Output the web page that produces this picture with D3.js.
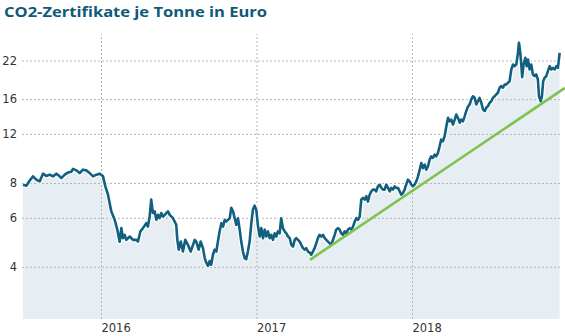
<!DOCTYPE html>
<html><head><meta charset="utf-8">
<script src="https://cdn.jsdelivr.net/npm/d3@7"></script>
<style>
html,body{margin:0;padding:0;background:#fff;}
svg{display:block;}
</style></head>
<body><svg id="c" width="565" height="336"></svg>
<script>
// ---- data ----
const title = "CO2-Zertifikate je Tonne in Euro";
const yTicks = [4, 6, 8, 12, 16, 22];
const xTicks = [2016, 2017, 2018];
// time in decimal years
const years = [
2015.498,2015.520,2015.542,2015.563,2015.584,2015.606,2015.627,2015.648,2015.670,2015.691,
2015.713,2015.734,2015.745,2015.767,2015.788,2015.809,2015.820,2015.841,2015.863,2015.884,
2015.905,2015.927,2015.949,2015.970,2015.992,2016.013,2016.028,2016.045,2016.066,2016.088,
2016.105,2016.120,2016.131,2016.141,2016.152,2016.163,2016.185,2016.206,2016.227,2016.238,
2016.253,2016.270,2016.291,2016.302,2016.313,2016.323,2016.334,2016.345,2016.356,2016.367,
2016.377,2016.388,2016.399,2016.410,2016.420,2016.431,2016.442,2016.463,2016.484,2016.491,
2016.500,2016.513,2016.527,2016.542,2016.559,2016.577,2016.592,2016.603,2016.613,2016.628,
2016.641,2016.656,2016.667,2016.677,2016.688,2016.699,2016.709,2016.720,2016.731,2016.742,
2016.752,2016.763,2016.774,2016.785,2016.796,2016.806,2016.817,2016.828,2016.838,2016.849,
2016.860,2016.870,2016.881,2016.892,2016.902,2016.913,2016.924,2016.934,2016.945,2016.956,
2016.967,2016.977,2016.988,2016.999,2017.010,2017.021,2017.031,2017.042,2017.053,2017.063,
2017.074,2017.085,2017.095,2017.106,2017.117,2017.127,2017.138,2017.149,2017.159,2017.170,
2017.181,2017.192,2017.203,2017.214,2017.224,2017.235,2017.246,2017.256,2017.267,2017.278,
2017.288,2017.299,2017.310,2017.320,2017.331,2017.342,2017.352,2017.363,2017.374,2017.385,
2017.395,2017.406,2017.417,2017.428,2017.439,2017.449,2017.460,2017.471,2017.481,2017.492,
2017.503,2017.513,2017.524,2017.535,2017.545,2017.556,2017.567,2017.578,2017.588,2017.599,
2017.610,2017.621,2017.632,2017.642,2017.653,2017.664,2017.674,2017.685,2017.696,2017.706,
2017.717,2017.728,2017.738,2017.749,2017.760,2017.770,2017.781,2017.792,2017.803,2017.814,
2017.824,2017.835,2017.846,2017.857,2017.867,2017.878,2017.889,2017.899,2017.910,2017.921,
2017.931,2017.942,2017.953,2017.963,2017.974,2017.985,2017.996,2018.006,2018.017,2018.028,
2018.039,2018.050,2018.060,2018.071,2018.082,2018.092,2018.103,2018.114,2018.124,2018.135,
2018.146,2018.156,2018.167,2018.178,2018.188,2018.199,2018.210,2018.221,2018.232,2018.242,
2018.253,2018.264,2018.275,2018.285,2018.296,2018.307,2018.317,2018.328,2018.339,2018.349,
2018.360,2018.371,2018.381,2018.392,2018.403,2018.414,2018.424,2018.435,2018.446,2018.457,
2018.468,2018.478,2018.489,2018.500,2018.510,2018.521,2018.532,2018.542,2018.553,2018.564,
2018.574,2018.585,2018.596,2018.606,2018.617,2018.628,2018.639,2018.650,2018.660,2018.671,
2018.682,2018.688,2018.697,2018.703,2018.709,2018.718,2018.729,2018.738,2018.746,2018.757,
2018.767,2018.778,2018.789,2018.799,2018.810,2018.817,2018.828,2018.836,2018.844,2018.853,
2018.864,2018.875,2018.886,2018.896,2018.907,2018.918,2018.928,2018.939,2018.945,2018.950
];
const prices = [
7.89,7.82,8.17,8.45,8.22,8.11,8.64,8.48,8.57,8.45,
8.64,8.45,8.33,8.57,8.72,8.78,8.99,8.88,8.68,8.93,
8.88,8.68,8.45,8.57,8.64,8.45,7.78,7.26,6.33,5.90,
5.44,4.92,5.51,5.07,5.21,5.00,5.14,5.00,5.00,4.93,
5.36,5.51,5.74,5.58,6.06,6.97,6.24,6.33,5.90,6.15,
5.98,6.24,6.06,6.15,6.24,6.33,6.15,5.98,5.66,5.00,
4.61,4.93,4.54,5.00,4.80,4.54,4.80,5.00,4.93,4.61,
4.93,4.67,4.31,4.14,4.03,4.20,4.07,4.42,4.61,4.54,
4.93,5.36,5.74,5.58,5.90,5.82,5.90,5.98,6.52,6.33,
5.98,5.66,5.98,5.44,4.93,4.54,4.30,4.26,4.54,4.93,
5.74,6.41,6.63,6.41,5.58,5.14,5.51,5.07,5.44,5.14,
5.36,5.07,5.21,5.00,5.28,5.14,5.36,5.28,5.98,5.51,
5.36,5.28,5.14,5.07,4.80,4.73,5.00,5.07,5.00,4.93,
4.80,4.67,4.61,4.67,4.54,4.50,4.42,4.54,4.67,4.86,
5.07,5.21,5.14,5.21,5.07,5.00,4.93,4.86,4.80,5.00,
5.21,5.44,5.51,5.44,5.28,5.21,5.36,5.28,5.44,5.51,
5.44,5.58,5.82,5.98,5.90,6.06,6.97,7.07,6.97,7.17,
6.86,7.26,7.46,7.57,7.57,7.46,7.78,7.89,7.68,7.57,
7.57,7.89,7.68,7.46,7.68,7.57,7.78,7.68,7.68,7.46,
7.26,7.36,7.57,7.89,8.22,8.11,7.89,7.78,7.89,8.11,
8.45,8.93,9.44,9.05,9.31,8.93,9.18,9.70,9.97,9.84,
10.11,9.97,10.25,10.83,11.45,11.29,11.76,12.75,13.70,13.32,
13.51,12.96,13.51,14.08,13.70,13.17,13.51,13.32,13.88,14.48,
15.04,15.30,15.94,16.38,16.17,15.30,15.72,16.17,15.53,14.68,
14.48,14.90,15.10,15.53,15.72,16.17,16.38,16.62,16.86,17.58,
17.82,17.58,18.05,18.05,18.30,18.55,20.44,21.30,21.00,21.30,
23.45,25.50,23.45,21.30,19.17,21.30,22.50,21.00,22.20,20.44,
21.30,19.61,19.34,19.61,18.81,16.38,15.72,16.38,18.55,19.10,
19.34,20.20,21.00,20.44,20.72,20.44,21.00,20.72,22.20,23.45
];
// green trend line (start / end)
const trendYears = [2017.344, 2018.984];
const trendPrices = [4.24, 17.55];
const xDomain = [2015.492, 2018.965];
const yDomain = [2.6, 27.4];

// ---- chart ----
const svg = d3.select("#c");
const L = 22, R = 562, T = 34, B = 319;
const x = d3.scaleLinear().domain(xDomain).range([L, R]);
const y = d3.scaleLog().domain(yDomain).range([B, T]);
const data = years.map((t, i) => ({t, v: prices[i]}));

svg.append("text").attr("x", 4).attr("y", 17)
  .attr("font-family", "'Open Sans', sans-serif").attr("font-weight", 700)
  .attr("font-size", 15).attr("fill", "#0f5a78")
  .attr("textLength", 263).attr("lengthAdjust", "spacingAndGlyphs")
  .text(title);

// area
svg.append("path").datum(data)
  .attr("fill", "#e6eef3")
  .attr("d", d3.area().x(d => x(d.t)).y0(B).y1(d => y(d.v)));

// grid horizontal via axis
const gy = svg.append("g").attr("transform", `translate(${L},0)`)
  .call(d3.axisLeft(y).tickValues(yTicks).tickFormat(d3.format("d")).tickSize(-(R - L)).tickPadding(5));
gy.select(".domain").remove();
gy.selectAll(".tick line").attr("stroke", "#b5b5b5").attr("stroke-dasharray", "2,2");
gy.selectAll(".tick text").attr("font-family", "'DejaVu Sans', sans-serif").attr("font-size", 11.5)
  .attr("fill", "#333").attr("x", -5);

const gx = svg.append("g").attr("transform", `translate(0,${B})`)
  .call(d3.axisBottom(x).tickValues(xTicks).tickFormat(d3.format("d")).tickSize(-(B - T)));
gx.select(".domain").remove();
gx.selectAll(".tick line").attr("stroke", "#b5b5b5").attr("stroke-dasharray", "2,2");
gx.selectAll(".tick text").attr("font-family", "'DejaVu Sans', sans-serif").attr("font-size", 11.5)
  .attr("fill", "#333").attr("text-anchor", "start").attr("dy", 0).attr("y", 13);

// line with white halo
const line = d3.line().x(d => x(d.t)).y(d => y(d.v));
svg.append("path").datum(data).attr("fill", "none").attr("stroke", "#fff")
  .attr("stroke-width", 5).attr("stroke-linejoin", "round").attr("d", line);
svg.append("path").datum(data).attr("fill", "none").attr("stroke", "#11607f")
  .attr("stroke-width", 2.6).attr("stroke-linejoin", "round").attr("d", line);

// trend
const trend = trendYears.map((t, i) => ({t, v: trendPrices[i]}));
svg.append("path").datum(trend).attr("fill", "none").attr("stroke", "#7dc34f")
  .attr("stroke-width", 2.6).attr("d", line);
</script></body></html>
